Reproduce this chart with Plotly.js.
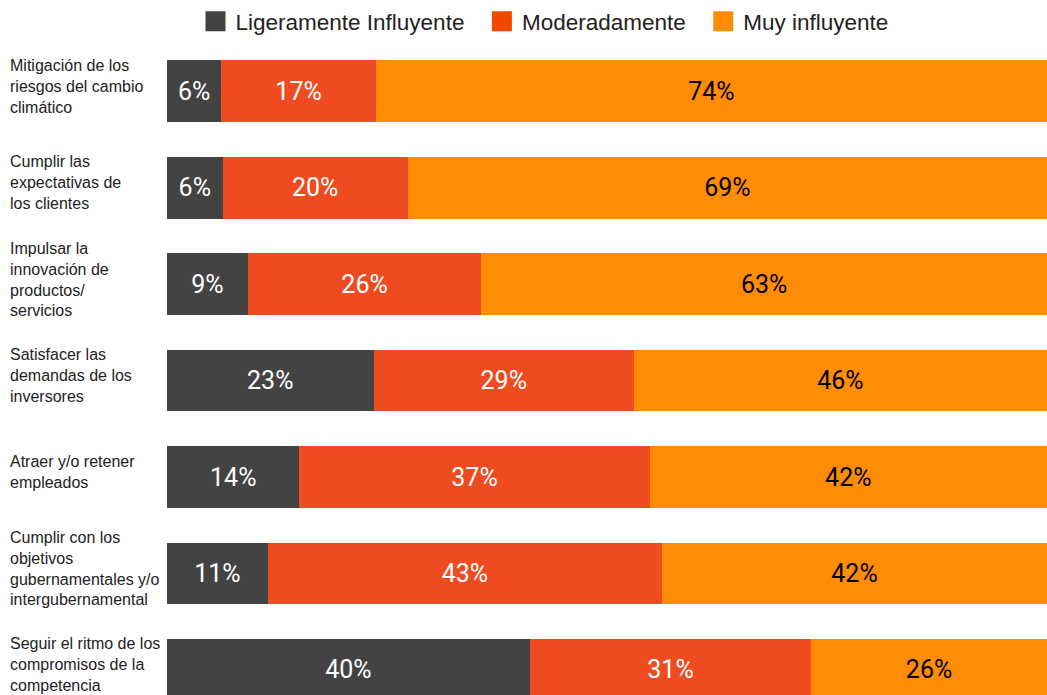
<!DOCTYPE html>
<html>
<head>
<meta charset="utf-8">
<script src="https://cdn.plot.ly/plotly-3.0.1.min.js"></script>
<style>html,body{margin:0;padding:0;background:#fff;}#chart{width:1047px;height:695px;}</style>
</head>
<body>
<div id="chart"></div>
<script>
const categories = [
  "Mitigación de los<br>riesgos del cambio<br>climático",
  "Cumplir las<br>expectativas de<br>los clientes",
  "Impulsar la<br>innovación de<br>productos/<br>servicios",
  "Satisfacer las<br>demandas de los<br>inversores",
  "Atraer y/o retener<br>empleados",
  "Cumplir con los<br>objetivos<br>gubernamentales y/o<br>intergubernamental",
  "Seguir el ritmo de los<br>compromisos de la<br>competencia"
];
const seriesNames = ["Ligeramente Influyente", "Moderadamente", "Muy influyente"];
const ligeramente = [6, 6, 9, 23, 14, 11, 40];
const moderadamente = [17, 20, 26, 29, 37, 43, 31];
const muyInfluyente = [74, 69, 63, 46, 42, 42, 26];

const colors = ["#434343", "#EF4B20", "#FF8C05"];
const legendColors = ["#434343", "#F04A00", "#FF8C00"];
const textColors = ["#ffffff", "#ffffff", "#000000"];
const allSeries = [ligeramente, moderadamente, muyInfluyente];
const cats = categories.map((c, i) => "c" + i);

const barTraces = allSeries.map((vals, s) => ({
  type: "bar",
  orientation: "h",
  name: seriesNames[s],
  y: cats,
  x: vals,
  text: vals.map(v => v + "%"),
  textposition: "inside",
  insidetextanchor: "middle",
  constraintext: "none",
  textfont: {family: "Roboto", size: 25, color: textColors[s]},
  marker: {color: colors[s], line: {width: 0}},
  width: 0.64,
  showlegend: false,
  hoverinfo: "name+x"
}));

// legend-only entries (no data drawn) so the legend squares can be larger
const legendTraces = seriesNames.map((n, s) => ({
  type: "scatter",
  mode: "markers",
  name: n + "\u00a0\u00a0",
  x: [null], y: [null],
  marker: {symbol: "square", size: 16, color: legendColors[s], line: {width: 4, color: legendColors[s]}},
  showlegend: true,
  hoverinfo: "skip"
}));

const annotations = categories.map((c, i) => ({
  xref: "paper", yref: "y",
  x: (8 - 167) / 880, y: cats[i],
  xanchor: "left", yanchor: "middle", align: "left",
  yshift: 5,
  text: c, showarrow: false,
  font: {family: "Liberation Sans, Arial, sans-serif", size: 16, color: "#222222"}
}));

const layout = {
  width: 1047, height: 695,
  margin: {l: 167, r: 0, t: 42, b: 0, pad: 0},
  barmode: "stack",
  barnorm: "percent",
  paper_bgcolor: "#ffffff",
  plot_bgcolor: "#ffffff",
  showlegend: true,
  legend: {
    orientation: "h",
    xref: "container", yref: "container",
    x: 551 / 1047, xanchor: "center",
    y: 1, yanchor: "top",
    font: {family: "Liberation Sans, Arial, sans-serif", size: 22.5, color: "#222222"},
    traceorder: "normal",
    itemsizing: "trace",
    itemwidth: 30
  },
  xaxis: {range: [0, 100], visible: false, fixedrange: true},
  yaxis: {
    type: "category",
    categoryorder: "array", categoryarray: cats,
    range: [6.26, -0.5],
    showticklabels: false, showgrid: false, zeroline: false, showline: false, ticks: ""
  },
  annotations: annotations
};

Plotly.newPlot("chart", barTraces.concat(legendTraces), layout, {displayModeBar: false, staticPlot: true});
</script>
</body>
</html>
